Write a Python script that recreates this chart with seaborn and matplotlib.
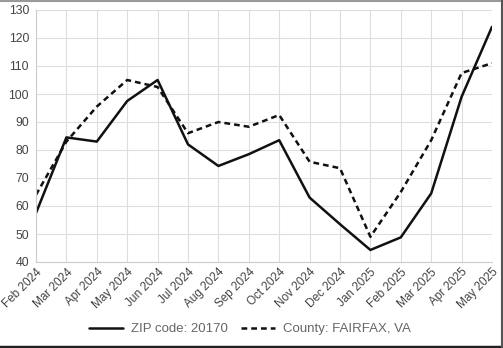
import matplotlib
matplotlib.use("Agg")
import matplotlib.pyplot as plt
import seaborn as sns
import pandas as pd
from matplotlib.lines import Line2D

months = ["Feb 2024", "Mar 2024", "Apr 2024", "May 2024", "Jun 2024", "Jul 2024",
          "Aug 2024", "Sep 2024", "Oct 2024", "Nov 2024", "Dec 2024", "Jan 2025",
          "Feb 2025", "Mar 2025", "Apr 2025", "May 2025"]
zip_values = [57.5, 84.5, 83, 97.5, 105, 82, 74.3, 78.5, 83.5, 63, 53.5, 44.3,
              48.8, 64.5, 99, 124]
county_values = [64, 83, 95.5, 105, 102.5, 86, 90, 88.3, 92.5, 75.8, 73.5, 49,
                 65, 83.5, 107.5, 111]
yticks = [40, 50, 60, 70, 80, 90, 100, 110, 120, 130]

zip_label = "ZIP code: 20170"
county_label = "County: FAIRFAX, VA"

df = pd.DataFrame({
    "idx": list(range(len(months))) * 2,
    "value": zip_values + county_values,
    "series": [zip_label] * len(months) + [county_label] * len(months),
})

sns.set_theme(style="white")
plt.rcParams["font.family"] = ["Liberation Sans", "DejaVu Sans"]

fig = plt.figure(figsize=(5.03, 3.48), dpi=100)
ax = fig.add_axes([36 / 503, 1 - 262 / 348, (492 - 36) / 503, (262 - 10) / 348])

sns.lineplot(data=df, x="idx", y="value", hue="series", style="series",
             palette={zip_label: "#111111", county_label: "#111111"},
             dashes={zip_label: "", county_label: (2.3, 1.6)},
             linewidth=1.8, ax=ax, legend=False)

ax.set_xlim(0, len(months) - 1)
ax.set_ylim(40, 130)
ax.set_yticks(yticks)
ax.set_xticks(range(len(months)))
ax.set_xticklabels(months, rotation=45, ha="right", rotation_mode="anchor")
ax.set_xlabel("")
ax.set_ylabel("")
ax.grid(True, color="#dddddd", linewidth=0.8)
for s in ["top", "right"]:
    ax.spines[s].set_visible(False)
for s in ["left", "bottom"]:
    ax.spines[s].set_color("#cccccc")
    ax.spines[s].set_linewidth(0.8)
ax.tick_params(axis="x", labelsize=8.5, colors="#444444", length=0, pad=3)
ax.tick_params(axis="y", labelsize=8.8, colors="#444444", length=0, pad=5)

handles = [Line2D([0], [0], color="#111111", lw=1.8),
           Line2D([0], [0], color="#111111", lw=1.8, dashes=(2.3, 1.6))]
fig.legend(handles, [zip_label, county_label], loc="center",
           bbox_to_anchor=(250 / 503, 1 - 329 / 348), ncol=2, frameon=False,
           fontsize=9.5, labelcolor="#666666", handlelength=2.6,
           columnspacing=1.0, handletextpad=0.6)

# screenshot frame
fig.add_artist(Line2D([0, 1], [1 - 0.5 / 348, 1 - 0.5 / 348], transform=fig.transFigure,
                      color="#999999", lw=1.5))
fig.add_artist(Line2D([0, 1], [1.5 / 348, 1.5 / 348], transform=fig.transFigure,
                      color="#222222", lw=2.5))
fig.add_artist(Line2D([1 - 1 / 503, 1 - 1 / 503], [0, 1], transform=fig.transFigure,
                      color="#555555", lw=1.5))

fig.savefig("out.png", dpi=100)
